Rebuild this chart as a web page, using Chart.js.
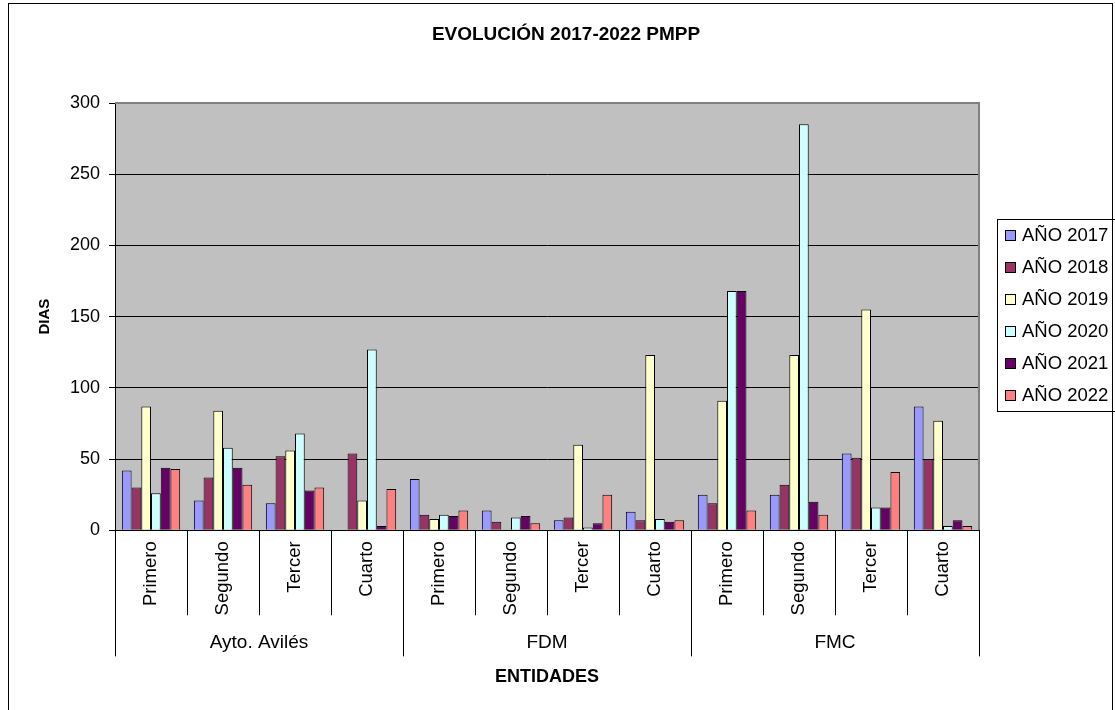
<!DOCTYPE html>
<html>
<head>
<meta charset="utf-8">
<script src="https://cdn.jsdelivr.net/npm/chart.js@4"></script>
<style>
  html, body { margin: 0; padding: 0; background: #fff; }
  #wrap { width: 1115px; height: 710px; position: relative; }
</style>
</head>
<body>
<div id="wrap"><canvas id="pmppChart" width="1115" height="710"></canvas></div>
<script>
// quarters repeat for each entity
const quarters = ['Primero', 'Segundo', 'Tercer', 'Cuarto'];
const entities = ['Ayto. Avilés', 'FDM', 'FMC'];
const yTicks = [0, 50, 100, 150, 200, 250, 300];

// days per quarter, order: Ayto (4), FDM (4), FMC (4)
const ano2017 = [42, 21, 19, 0, 36, 14, 7, 13, 25, 25, 54, 87];
const ano2018 = [30, 37, 52, 54, 11, 6, 9, 7, 19, 32, 51, 50];
const ano2019 = [87, 84, 56, 21, 8, 0, 60, 123, 91, 123, 155, 77];
const ano2020 = [26, 58, 68, 127, 11, 9, 2, 8, 168, 285, 16, 3];
const ano2021 = [44, 44, 28, 3, 10, 10, 5, 6, 168, 20, 16, 7];
const ano2022 = [43, 32, 30, 29, 14, 5, 25, 7, 14, 11, 41, 3];

const chartTitle = 'EVOLUCIÓN 2017-2022 PMPP';

const labels = [];
entities.forEach(function() { quarters.forEach(function(q) { labels.push(q); }); });

const FONT = 'Arial, "Liberation Sans", sans-serif';

function ds(label, data, color) {
    return {
        label: label,
        data: data,
        backgroundColor: color,
        borderColor: '#000000',
        borderWidth: 1,
        categoryPercentage: 0.81,
        barPercentage: 1.0
    };
}

// background, frame, title, two-level category axis and the legend box
const decor = {
    id: 'decor',
    beforeDraw: function(chart) {
        const c = chart.ctx, a = chart.chartArea;
        c.save();
        c.fillStyle = '#ffffff';
        c.fillRect(0, 0, chart.width, chart.height);
        c.fillStyle = '#c0c0c0';
        c.fillRect(a.left, a.top, a.right - a.left, a.bottom - a.top);
        c.strokeStyle = '#000000';
        c.lineWidth = 1;
        c.strokeRect(8.5, 3.5, 1104, 730);
        // title is centred on the whole frame, not on the plot
        c.fillStyle = '#000000';
        c.font = 'bold 19px ' + FONT;
        c.textAlign = 'center';
        c.textBaseline = 'middle';
        c.fillText(chartTitle, 566, 35);
        c.restore();
    },
    afterDraw: function(chart) {
        const c = chart.ctx, a = chart.chartArea, x = chart.scales.x;
        const n = labels.length;
        c.save();
        // plot border top/right
        c.strokeStyle = '#808080';
        c.lineWidth = 2;
        c.beginPath();
        c.moveTo(a.left, a.top);
        c.lineTo(a.right, a.top);
        c.lineTo(a.right, a.bottom);
        c.stroke();

        // separators under the x axis
        c.strokeStyle = '#000000';
        c.lineWidth = 1;
        for (let i = 0; i <= n; i++) {
            let px;
            if (i === 0) px = a.left;
            else if (i === n) px = a.right;
            else px = (x.getPixelForValue(i - 1) + x.getPixelForValue(i)) / 2;
            px = Math.round(px) + 0.5;
            const isGroup = i % quarters.length === 0;
            c.beginPath();
            c.moveTo(px, a.bottom);
            c.lineTo(px, a.bottom + (isGroup ? 126 : 85));
            c.stroke();
        }

        // entity labels
        c.fillStyle = '#000000';
        c.font = '19px ' + FONT;
        c.textAlign = 'center';
        c.textBaseline = 'middle';
        entities.forEach(function(name, g) {
            const first = x.getPixelForValue(g * quarters.length);
            const last = x.getPixelForValue(g * quarters.length + quarters.length - 1);
            c.fillText(name, (first + last) / 2, a.bottom + 112);
        });

        // legend
        const lx = 997, ly = 219;
        c.strokeStyle = '#000000';
        c.lineWidth = 1;
        c.strokeRect(lx + 0.5, ly + 0.5, chart.width - lx + 5, 192);
        c.font = '18.5px ' + FONT;
        c.textAlign = 'left';
        chart.data.datasets.forEach(function(d, i) {
            const cy = 235 + i * 32;
            c.fillStyle = d.backgroundColor;
            c.fillRect(1005, cy - 5, 11, 11);
            c.strokeStyle = '#000000';
            c.strokeRect(1005.5, cy - 4.5, 10, 10);
            c.fillStyle = '#000000';
            c.fillText(d.label, 1022, cy + 1);
        });
        c.restore();
    }
};

const ctx = document.getElementById('pmppChart').getContext('2d');
const pmppChart = new Chart(ctx, {
    type: 'bar',
    data: {
        labels: labels,
        datasets: [
            ds('AÑO 2017', ano2017, '#9999ff'),
            ds('AÑO 2018', ano2018, '#993366'),
            ds('AÑO 2019', ano2019, '#ffffcc'),
            ds('AÑO 2020', ano2020, '#ccffff'),
            ds('AÑO 2021', ano2021, '#660066'),
            ds('AÑO 2022', ano2022, '#ff8080')
        ]
    },
    options: {
        responsive: false,
        animation: false,
        devicePixelRatio: 1,
        layout: { padding: { left: 36, right: 136, top: 103, bottom: 22 } },
        plugins: {
            title: { display: false },
            legend: { display: false },
            tooltip: { enabled: false }
        },
        scales: {
            x: {
                grid: { display: false, drawTicks: false },
                border: { display: true, color: '#000000', width: 1 },
                ticks: {
                    color: '#000000',
                    autoSkip: false,
                    maxRotation: 90,
                    minRotation: 90,
                    padding: 11,
                    font: { family: FONT, size: 18.5 }
                },
                title: {
                    display: true,
                    text: 'ENTIDADES',
                    color: '#000000',
                    font: { family: FONT, size: 18, weight: 'bold' },
                    padding: { top: 40, bottom: 0 }
                }
            },
            y: {
                min: 0,
                max: 300,
                afterBuildTicks: function(axis) {
                    axis.ticks = yTicks.map(function(v) { return { value: v }; });
                },
                grid: { color: '#000000', lineWidth: 1, tickLength: 6 },
                border: { display: true, color: '#000000', width: 1 },
                ticks: {
                    color: '#000000',
                    padding: 9,
                    font: { family: FONT, size: 18 }
                },
                title: {
                    display: true,
                    text: 'DIAS',
                    color: '#000000',
                    font: { family: FONT, size: 15, weight: 'bold' },
                    padding: { top: 0, bottom: 7 }
                }
            }
        }
    },
    plugins: [decor]
});
</script>
</body>
</html>
